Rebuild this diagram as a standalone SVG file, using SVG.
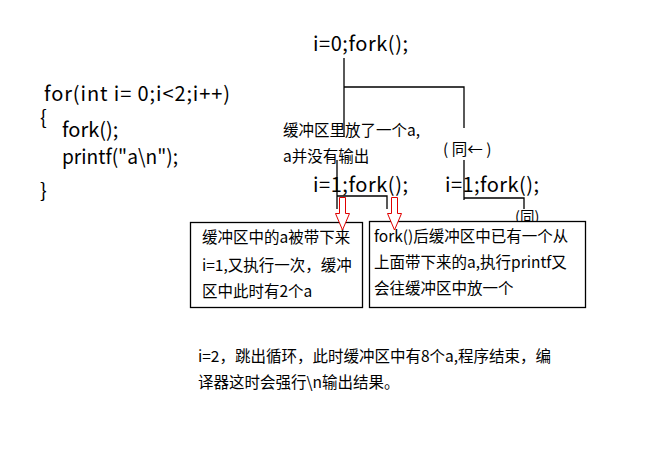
<svg xmlns="http://www.w3.org/2000/svg" width="666" height="454" viewBox="0 0 666 454">
<style>
text{font-family:"Microsoft YaHei","Noto Sans CJK SC",sans-serif;fill:#000}
.big{font-size:20px}
.sm{font-size:15.5px}
.ln{stroke:#000;stroke-width:1.3;fill:none}
.box{stroke:#000;stroke-width:1.3;fill:#fff}
.arr{stroke:#e00000;stroke-width:1;fill:#fff}
</style>
<rect width="666" height="454" fill="#fff"/>
<g id="connectors">
<path class="ln" d="M344 58V137M344 87H464V128"/>
<path class="ln" d="M464 160V200M464 198H524V209"/>
<path class="ln" d="M337 160V209M337 196H387V209"/>
</g>
<g id="code">
<text class="big" x="44" y="101" textLength="186" lengthAdjust="spacing">for(int i= 0;i&lt;2;i++)</text>
<text class="big" x="40" y="125">{</text>
<text class="big" x="62" y="137">fork();</text>
<text class="big" x="62" y="164" textLength="116" lengthAdjust="spacingAndGlyphs">printf("a\n");</text>
<text class="big" x="40" y="198">}</text>
</g>
<g id="root"><text class="big" x="313" y="51" textLength="95" lengthAdjust="spacing">i=0;fork();</text></g>
<g id="note-left">
<text class="sm" x="283" y="136">缓冲区里放了一个a,</text>
<text class="sm" x="283" y="162">a并没有输出</text>
</g>
<g id="note-right"><text class="sm" x="443" y="155">( 同← )</text></g>
<g id="child-left"><text class="big" x="313" y="192" textLength="95" lengthAdjust="spacing">i=1;fork();</text></g>
<g id="child-right"><text class="big" x="445" y="192" textLength="94" lengthAdjust="spacing">i=1;fork();</text></g>
<g id="same"><text x="515" y="222" style="font-size:14.5px">(同)</text></g>
<g id="box1">
<rect class="box" x="190.5" y="222.5" width="172" height="85"/>
<text class="sm" x="202" y="243">缓冲区中的a被带下来</text>
<text class="sm" x="202" y="271">i=1,又执行一次，缓冲</text>
<text class="sm" x="202" y="297">区中此时有2个a</text>
</g>
<g id="box2">
<rect class="box" x="369.5" y="221.5" width="216" height="86"/>
<text class="sm" x="374" y="242">fork()后缓冲区中已有一个从</text>
<text class="sm" x="374" y="268">上面带下来的a,执行printf又</text>
<text class="sm" x="374" y="294">会往缓冲区中放一个</text>
</g>
<g id="arrows">
<path class="arr" d="M339.5 197.5H345.5V213.5H349.5L342.5 230L335.5 213.5H339.5Z"/>
<path class="arr" d="M391.5 197.5H397.5V213.5H401.5L394.5 230L387.5 213.5H391.5Z"/>
</g>
<g id="summary">
<text class="sm" x="198" y="362">i=2，跳出循环，此时缓冲区中有8个a,程序结束，编</text>
<text class="sm" x="198" y="388">译器这时会强行\n输出结果。</text>
</g>
</svg>
